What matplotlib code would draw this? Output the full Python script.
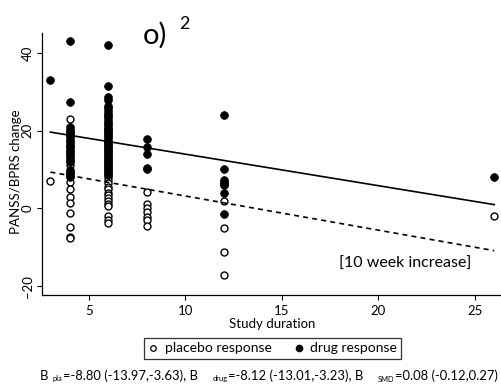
import matplotlib
matplotlib.use("Agg")
import matplotlib.pyplot as plt
from matplotlib.lines import Line2D

plt.rcParams['font.family'] = ['Lato', 'DejaVu Sans']

# ---- data -------------------------------------------------------------
# change scores grouped by study duration (weeks)
placebo_x3 = [7.1]
placebo_x4 = [23.1, 19.5, 16.0, 13.5, 11.2, 9.1, 8.3, 6.9, 4.9, 3.0, 1.3, -1.1, -4.9, -7.3, -7.7]
placebo_x6 = [20.5, 17.0, 14.5, 12.0, 10.5, 9.0, 8.2, 7.3, 6.6, 5.6, 4.9, 4.1, 3.4, 2.6,
              1.8, 1.1, 0.6, -1.9, -3.0, -3.8]
placebo_x8 = [4.2, 1.2, 0.0, -1.0, -2.1, -3.1, -4.5]
placebo_x12 = [2.0, -5.1, -11.1, -17.1]
placebo_x26 = [-1.9]

drug_x3 = [33.1]
drug_x4 = [43.2, 27.5, 20.9, 20.2, 19.6, 19.0, 18.3, 17.6, 17.0, 16.4, 15.8, 15.1, 14.5,
           13.9, 13.2, 12.6, 12.0, 10.0, 9.4, 8.7, 8.1]
drug_x6 = [42.0, 31.6, 28.8, 28.0, 26.4, 25.8, 25.1, 24.3, 23.9, 23.2, 22.6, 22.1, 21.4,
           20.8, 20.3, 19.7, 19.1, 18.6, 18.2, 17.5, 16.9, 16.3, 15.8, 15.2, 14.7, 14.0,
           13.6, 12.9, 12.4, 11.8, 11.1, 10.6, 10.0, 9.3, 8.7]
drug_x8 = [17.8, 15.9, 14.0, 10.5, 10.1]
drug_x12 = [24.0, 10.1, 7.3, 6.9, 6.3, 6.1, 3.9, -1.5]
drug_x26 = [8.1]

placebo_groups = {3: placebo_x3, 4: placebo_x4, 6: placebo_x6, 8: placebo_x8,
                  12: placebo_x12, 26: placebo_x26}
drug_groups = {3: drug_x3, 4: drug_x4, 6: drug_x6, 8: drug_x8, 12: drug_x12, 26: drug_x26}

# meta-regression fits (slope given per 10 weeks)
b_pla, b_drug = -8.80, -8.12
a_pla, a_drug = 12.0, 22.1
fit_range = [3, 26]

xticks = [5, 10, 15, 20, 25]
yticks = [-20, 0, 20, 40]

# coefficient summary: (text, is_subscript, gap before in px)
coef_parts = [
    ('B', False, 0),
    ('pla', True, 4),
    ('=-8.80 (-13.97,-3.63), B', False, 1),
    ('drug', True, 14),
    ('=-8.12 (-13.01,-3.23), B', False, 1),
    ('SMD', True, 14),
    ('=0.08 (-0.12,0.27)', False, 1),
]

# ---- figure -----------------------------------------------------------
W, H = 501, 387
fig = plt.figure(figsize=(W / 100, H / 100), dpi=100)


def fx(px):
    return px / W


def fy(py):
    return 1 - py / H


ax = fig.add_axes([fx(42), fy(295), fx(501) - fx(42), fy(33) - fy(295)])

for dur, vals in placebo_groups.items():
    ax.plot([dur] * len(vals), vals, linestyle='none', marker='o', ms=5,
            mfc='white', mec='black', mew=1.0, zorder=3)
for dur, vals in drug_groups.items():
    ax.plot([dur] * len(vals), vals, linestyle='none', marker='o', ms=5.6,
            mfc='black', mec='black', mew=0.5, zorder=4)

ax.plot(fit_range, [a_drug + b_drug / 10 * x for x in fit_range],
        color='black', lw=1.2, zorder=5)
ax.plot(fit_range, [a_pla + b_pla / 10 * x for x in fit_range],
        color='black', lw=1.2, linestyle=(0, (3, 2.5)), zorder=5)

ax.set_xlim(2.565, 26.35)
ax.set_ylim(-22.3, 45.2)
ax.set_xticks(xticks)
ax.set_yticks(yticks)
for s in ('top', 'right'):
    ax.spines[s].set_visible(False)
for s in ('left', 'bottom'):
    ax.spines[s].set_linewidth(0.9)
ax.tick_params(direction='out', length=3.5, width=0.8, labelsize=9.5)
ax.tick_params(axis='x', pad=3.5)
ax.tick_params(axis='y', pad=2.5)
for lab in ax.get_yticklabels():
    lab.set_rotation(90)
    lab.set_va('center')

ax.text(21.37, -14.3, '[10 week increase]', fontsize=11.5, ha='center', va='center')

fig.text(fx(16), fy(172), 'PANSS/BPRS change', rotation=90, ha='center', va='center',
         fontsize=9.5)
fig.text(fx(272), fy(324), 'Study duration', ha='center', va='center', fontsize=9.5)

# panel label
fig.text(fx(155), fy(35), 'o)', ha='center', va='center', fontsize=21)
fig.text(fx(184), fy(24), '2', ha='center', va='center', fontsize=13)

# legend
handles = [
    Line2D([], [], linestyle='none', marker='o', ms=4, mfc='white', mec='black', mew=0.9),
    Line2D([], [], linestyle='none', marker='o', ms=4.5, mfc='black', mec='black'),
]
leg = fig.legend(handles, ['placebo response', 'drug response'], ncol=2,
                 loc='center', bbox_to_anchor=(fx(272.5), fy(348.5)),
                 fontsize=10, frameon=True, fancybox=False, edgecolor='black',
                 handlelength=0.8, handletextpad=0.4, columnspacing=1.6,
                 borderpad=0.3, borderaxespad=0)
leg.get_frame().set_linewidth(0.9)

# coefficient summary line, laid out piece by piece to span the figure width
renderer = fig.canvas.get_renderer()
x_start, x_end, y_line = 40, 498, 376


def layout(fs_big):
    fs_small = fs_big * 0.58
    x = x_start
    items = []
    for txt, sub, gap in coef_parts:
        x += gap
        fs = fs_small if sub else fs_big
        t = fig.text(fx(x), fy(y_line + (3 if sub else 0)), txt, fontsize=fs,
                     va='center', ha='left')
        w = t.get_window_extent(renderer).width
        items.append(t)
        x += w
    return items, x


fs = 9.5
for _ in range(4):
    items, x_last = layout(fs)
    for t in items:
        t.remove()
    gaps = sum(g for _, _, g in coef_parts)
    fs *= (x_end - x_start - gaps) / (x_last - x_start - gaps)
layout(fs)

fig.savefig('out.png', dpi=100)
